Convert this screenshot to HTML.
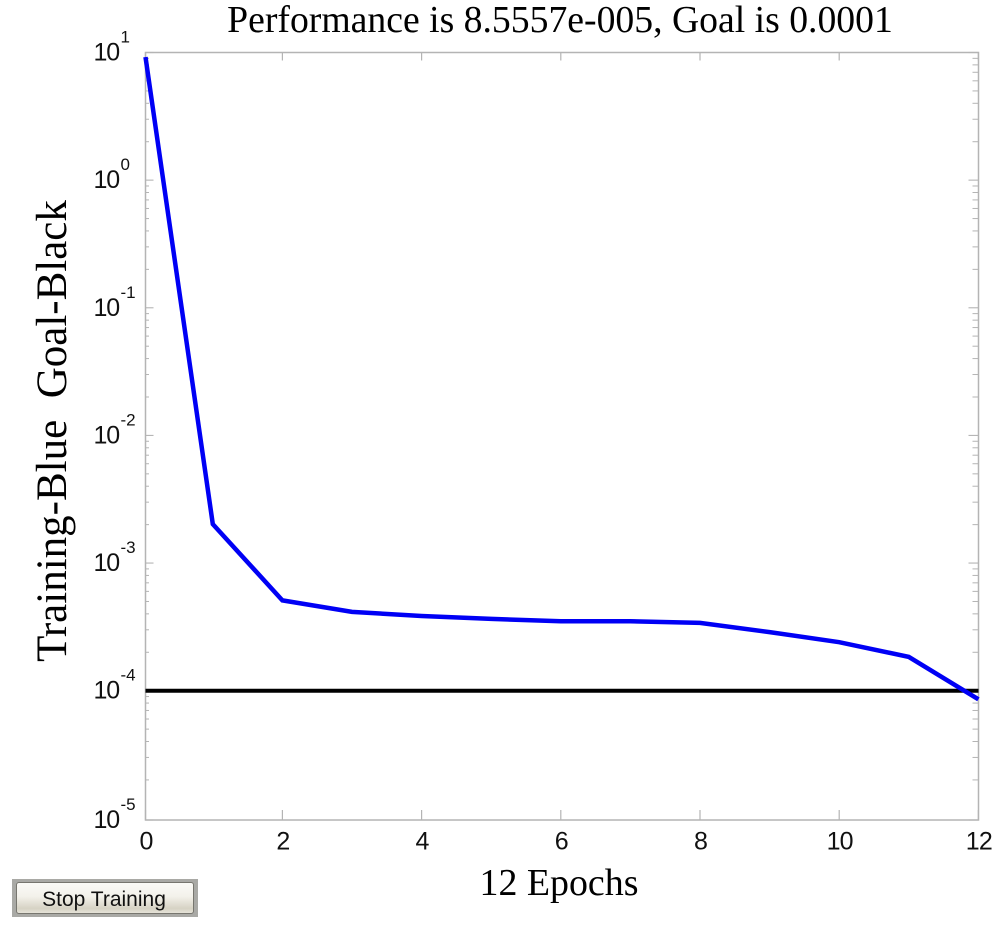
<!DOCTYPE html>
<html>
<head>
<meta charset="utf-8">
<title>Training Performance</title>
<style>
html,body{margin:0;padding:0;background:#fff;width:1000px;height:926px;overflow:hidden}
svg{display:block;position:absolute;left:0;top:0}
.sans{font-family:"Liberation Sans",Arial,sans-serif;fill:#111}
.serif{font-family:"Liberation Serif","Times New Roman",serif;fill:#000}
#stop-btn{position:absolute;left:12px;top:879px;width:186px;height:38px;box-sizing:border-box;background:#a9a9a5;padding:3px 4px;margin:0;border:0}
#stop-btn span{display:block;height:100%;box-sizing:border-box;border:1px solid #77766f;border-radius:3px;background:linear-gradient(#fbfaf7 0%,#f3f1ea 45%,#d6d2c4 85%,#e6e3d8 100%);font:21px/33px "Liberation Sans",Arial,sans-serif;color:#111;text-align:center;padding-right:2px;overflow:hidden}
</style>
</head>
<body>
<svg id="chart" width="1000" height="926" viewBox="0 0 1000 926" xmlns="http://www.w3.org/2000/svg"></svg>
<button id="stop-btn"><span>Stop Training</span></button>
<script>
const epochs = [0,1,2,3,4,5,6,7,8,9,10,11,12];
const trainingPerf = [9.2,0.00202,0.00051,0.000414,0.000385,0.000365,0.00035,0.00035,0.00034,0.000288,0.00024,0.000184,0.000085557];
const goalValue = [0.0001];
const xTickLabels = [0,2,4,6,8,10,12];
const yTickExponents = [1,0,-1,-2,-3,-4,-5];
const minorMultipliers = [2,3,4,5,6,7,8,9];
const titleText = ["Performance is 8.5557e-005, Goal is 0.0001"];
const xTitleText = ["12 Epochs"];
const yTitleText = ["Training-Blue  Goal-Black"];

const NS = 'http://www.w3.org/2000/svg';
const svg = document.getElementById('chart');
const L = 145.5, R = 978.5, T = 52.5, B = 820;
const DEC = 127.64;
const xScale = v => Math.max(L, 143.2 + 69.6 * v);
const yScale = v => Math.min(B, T + (1 - Math.log10(v)) * DEC);

function mk(tag, attrs, text) {
  const el = document.createElementNS(NS, tag);
  for (const k in attrs) el.setAttribute(k, attrs[k]);
  if (text !== undefined) el.textContent = text;
  svg.appendChild(el);
  return el;
}
const AXC = '#b4b4b4';

const frame = mk('rect', {x:L, y:T, width:R-L, height:B-T, fill:'#fff', stroke:AXC, 'stroke-width':1.5});



xTickLabels.forEach(v => {
  const x = xScale(v);
  const t1 = mk('line', {x1:x, x2:x, y1:B, y2:B-10, stroke:AXC, 'stroke-width':1.2});
  
  
  const t2 = mk('line', {x1:x, x2:x, y1:T, y2:T+8, stroke:AXC, 'stroke-width':1.2});
  
  
  const lab = mk('text', {x:x + 0.5, y:849.5, 'font-size':25, 'letter-spacing':-0.8, 'text-anchor':'middle', class:'sans'}, String(v));
  
  
});

yTickExponents.forEach(e => {
  const y = e === -5 ? B : yScale(Math.pow(10, e));
  const leftMajor = mk('line', {x1:L, x2:L + 8, y1:y, y2:y, stroke:AXC, 'stroke-width':1.1});
  
  
  const rightMajor = mk('line', {x1:R, x2:R - 10, y1:y, y2:y, stroke:AXC, 'stroke-width':1.1});
  
  
  if (e < 1) {
    minorMultipliers.forEach(m => {
      const my = yScale(m * Math.pow(10, e));
      const ml = mk('line', {x1:L, x2:L + 3.5, y1:my, y2:my, stroke:AXC, 'stroke-width':1});
      
      
      const mr = mk('line', {x1:R, x2:R - 6, y1:my, y2:my, stroke:AXC, 'stroke-width':1});
      
      
    });
  }
  const base = mk('text', {x:93.5, y:y + 8, 'font-size':25, 'letter-spacing':-1.2, class:'sans'}, '10');
  
  
  const exp = mk('text', {x:120.5, y:y - 10, 'font-size':17, class:'sans'}, String(e));
  
  
});

const goal = mk('line', {x1:L, x2:R, y1:yScale(goalValue[0]), y2:yScale(goalValue[0]), stroke:'#000', 'stroke-width':4});



const pts = epochs.map((e, i) => xScale(e).toFixed(1) + ',' + yScale(trainingPerf[i]).toFixed(1)).join(' ');
const line = mk('polyline', {points:pts, fill:'none', stroke:'#0000f5', 'stroke-width':4.5, 'stroke-linejoin':'miter'});



const title = mk('text', {x:560, y:32, 'font-size':37.7, 'text-anchor':'middle', class:'serif'}, titleText[0]);



const xt = mk('text', {x:559, y:895, 'font-size':37.9, 'text-anchor':'middle', class:'serif'}, xTitleText[0]);



const yt = mk('text', {x:0, y:0, 'font-size':43, 'text-anchor':'middle', class:'serif', transform:'translate(66,431) rotate(-90)', style:'white-space:pre'}, yTitleText[0]);


</script>
</body>
</html>
